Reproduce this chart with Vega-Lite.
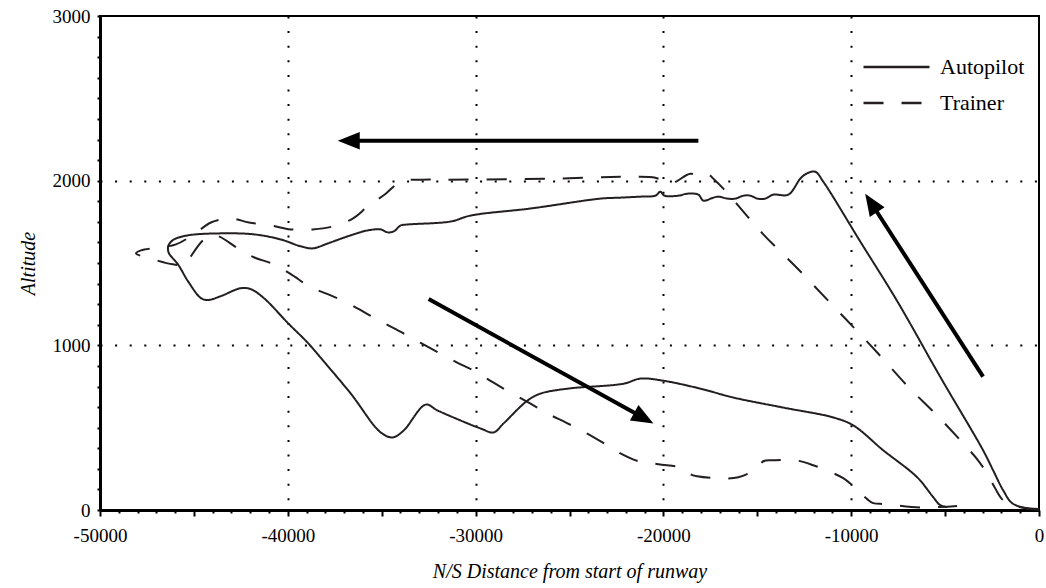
{
  "$schema": "https://vega.github.io/schema/vega-lite/v6.json",
  "width": 939,
  "height": 494,
  "autosize": {"type": "none"},
  "padding": {"left": 100, "top": 16, "right": 7, "bottom": 78},
  "background": "white",
  "config": {
    "view": {"stroke": "black", "strokeWidth": 2},
    "font": "Liberation Serif",
    "axis": {"labelFont": "Liberation Serif", "titleFont": "Liberation Serif"},
    "legend": {"labelFont": "Liberation Serif", "titleFont": "Liberation Serif"}
  },
  "datasets": {
    "paths": [
      {"s":"Autopilot","i":0,"x":0,"y":0},{"s":"Autopilot","i":1,"x":-745,"y":12},{"s":"Autopilot","i":2,"x":-1436,"y":42},{"s":"Autopilot","i":3,"x":-1915,"y":121},{"s":"Autopilot","i":4,"x":-2447,"y":242},{"s":"Autopilot","i":5,"x":-2979,"y":363},{"s":"Autopilot","i":6,"x":-5266,"y":810},{"s":"Autopilot","i":7,"x":-7553,"y":1269},{"s":"Autopilot","i":8,"x":-9521,"y":1631},{"s":"Autopilot","i":9,"x":-11489,"y":1994},{"s":"Autopilot","i":10,"x":-11915,"y":2054},{"s":"Autopilot","i":11,"x":-12393,"y":2042},{"s":"Autopilot","i":12,"x":-12712,"y":2012},{"s":"Autopilot","i":13,"x":-13351,"y":1915},{"s":"Autopilot","i":14,"x":-14149,"y":1915},{"s":"Autopilot","i":15,"x":-14574,"y":1891},{"s":"Autopilot","i":16,"x":-14999,"y":1891},{"s":"Autopilot","i":17,"x":-15372,"y":1909},{"s":"Autopilot","i":18,"x":-15745,"y":1909},{"s":"Autopilot","i":19,"x":-16170,"y":1891},{"s":"Autopilot","i":20,"x":-16596,"y":1891},{"s":"Autopilot","i":21,"x":-17074,"y":1903},{"s":"Autopilot","i":22,"x":-17340,"y":1897},{"s":"Autopilot","i":23,"x":-17872,"y":1879},{"s":"Autopilot","i":24,"x":-18138,"y":1915},{"s":"Autopilot","i":25,"x":-18724,"y":1921},{"s":"Autopilot","i":26,"x":-19202,"y":1909},{"s":"Autopilot","i":27,"x":-19947,"y":1909},{"s":"Autopilot","i":28,"x":-20159,"y":1933},{"s":"Autopilot","i":29,"x":-20425,"y":1909},{"s":"Autopilot","i":30,"x":-21223,"y":1903},{"s":"Autopilot","i":31,"x":-22287,"y":1897},{"s":"Autopilot","i":32,"x":-23350,"y":1891},{"s":"Autopilot","i":33,"x":-27074,"y":1831},{"s":"Autopilot","i":34,"x":-30265,"y":1788},{"s":"Autopilot","i":35,"x":-31329,"y":1752},{"s":"Autopilot","i":36,"x":-33616,"y":1734},{"s":"Autopilot","i":37,"x":-33988,"y":1728},{"s":"Autopilot","i":38,"x":-34361,"y":1692},{"s":"Autopilot","i":39,"x":-34680,"y":1686},{"s":"Autopilot","i":40,"x":-35052,"y":1704},{"s":"Autopilot","i":41,"x":-35744,"y":1698},{"s":"Autopilot","i":42,"x":-36807,"y":1662},{"s":"Autopilot","i":43,"x":-37871,"y":1619},{"s":"Autopilot","i":44,"x":-38669,"y":1589},{"s":"Autopilot","i":45,"x":-39307,"y":1601},{"s":"Autopilot","i":46,"x":-40371,"y":1643},{"s":"Autopilot","i":47,"x":-41807,"y":1674},{"s":"Autopilot","i":48,"x":-43563,"y":1680},{"s":"Autopilot","i":49,"x":-45318,"y":1668},{"s":"Autopilot","i":50,"x":-46063,"y":1643},{"s":"Autopilot","i":51,"x":-46328,"y":1613},{"s":"Autopilot","i":52,"x":-46382,"y":1589},{"s":"Autopilot","i":53,"x":-46328,"y":1559},{"s":"Autopilot","i":54,"x":-45850,"y":1492},{"s":"Autopilot","i":55,"x":-45318,"y":1390},{"s":"Autopilot","i":56,"x":-44626,"y":1287},{"s":"Autopilot","i":57,"x":-44254,"y":1275},{"s":"Autopilot","i":58,"x":-43563,"y":1299},{"s":"Autopilot","i":59,"x":-42499,"y":1347},{"s":"Autopilot","i":60,"x":-41967,"y":1341},{"s":"Autopilot","i":61,"x":-41275,"y":1287},{"s":"Autopilot","i":62,"x":-39999,"y":1136},{"s":"Autopilot","i":63,"x":-38935,"y":1015},{"s":"Autopilot","i":64,"x":-38244,"y":924},{"s":"Autopilot","i":65,"x":-36648,"y":707},{"s":"Autopilot","i":66,"x":-35052,"y":471},{"s":"Autopilot","i":67,"x":-34414,"y":441},{"s":"Autopilot","i":68,"x":-33829,"y":483},{"s":"Autopilot","i":69,"x":-32659,"y":640},{"s":"Autopilot","i":70,"x":-32020,"y":604},{"s":"Autopilot","i":71,"x":-29733,"y":495},{"s":"Autopilot","i":72,"x":-29042,"y":471},{"s":"Autopilot","i":73,"x":-28510,"y":526},{"s":"Autopilot","i":74,"x":-27233,"y":665},{"s":"Autopilot","i":75,"x":-26542,"y":707},{"s":"Autopilot","i":76,"x":-25106,"y":737},{"s":"Autopilot","i":77,"x":-22127,"y":767},{"s":"Autopilot","i":78,"x":-21223,"y":798},{"s":"Autopilot","i":79,"x":-19999,"y":785},{"s":"Autopilot","i":80,"x":-18031,"y":737},{"s":"Autopilot","i":81,"x":-16276,"y":683},{"s":"Autopilot","i":82,"x":-13617,"y":622},{"s":"Autopilot","i":83,"x":-10957,"y":562},{"s":"Autopilot","i":84,"x":-9893,"y":514},{"s":"Autopilot","i":85,"x":-8298,"y":363},{"s":"Autopilot","i":86,"x":-6489,"y":199},{"s":"Autopilot","i":87,"x":-5638,"y":79},{"s":"Autopilot","i":88,"x":-5266,"y":30},{"s":"Autopilot","i":89,"x":-4893,"y":18},
      {"s":"Trainer","i":0,"x":0,"y":6},{"s":"Trainer","i":1,"x":-1277,"y":24},{"s":"Trainer","i":2,"x":-1915,"y":60},{"s":"Trainer","i":3,"x":-2340,"y":133},{"s":"Trainer","i":4,"x":-2713,"y":211},{"s":"Trainer","i":5,"x":-3245,"y":302},{"s":"Trainer","i":6,"x":-4042,"y":405},{"s":"Trainer","i":7,"x":-5425,"y":574},{"s":"Trainer","i":8,"x":-7021,"y":755},{"s":"Trainer","i":9,"x":-8457,"y":937},{"s":"Trainer","i":10,"x":-9947,"y":1118},{"s":"Trainer","i":11,"x":-10957,"y":1239},{"s":"Trainer","i":12,"x":-12872,"y":1468},{"s":"Trainer","i":13,"x":-14680,"y":1674},{"s":"Trainer","i":14,"x":-16063,"y":1855},{"s":"Trainer","i":15,"x":-16808,"y":1952},{"s":"Trainer","i":16,"x":-17287,"y":2006},{"s":"Trainer","i":17,"x":-17606,"y":2036},{"s":"Trainer","i":18,"x":-18031,"y":2024},{"s":"Trainer","i":19,"x":-18564,"y":2042},{"s":"Trainer","i":20,"x":-19627,"y":1982},{"s":"Trainer","i":21,"x":-20425,"y":2018},{"s":"Trainer","i":22,"x":-21755,"y":2024},{"s":"Trainer","i":23,"x":-26010,"y":2012},{"s":"Trainer","i":24,"x":-31754,"y":2006},{"s":"Trainer","i":25,"x":-32818,"y":2006},{"s":"Trainer","i":26,"x":-33988,"y":1994},{"s":"Trainer","i":27,"x":-34786,"y":1921},{"s":"Trainer","i":28,"x":-35744,"y":1843},{"s":"Trainer","i":29,"x":-36542,"y":1770},{"s":"Trainer","i":30,"x":-37605,"y":1722},{"s":"Trainer","i":31,"x":-38669,"y":1704},{"s":"Trainer","i":32,"x":-39839,"y":1704},{"s":"Trainer","i":33,"x":-40903,"y":1728},{"s":"Trainer","i":34,"x":-42073,"y":1746},{"s":"Trainer","i":35,"x":-43031,"y":1770},{"s":"Trainer","i":36,"x":-44095,"y":1746},{"s":"Trainer","i":37,"x":-44999,"y":1674},{"s":"Trainer","i":38,"x":-45956,"y":1613},{"s":"Trainer","i":39,"x":-46754,"y":1595},{"s":"Trainer","i":40,"x":-47818,"y":1577},{"s":"Trainer","i":41,"x":-48084,"y":1559},{"s":"Trainer","i":42,"x":-47180,"y":1523},{"s":"Trainer","i":43,"x":-46116,"y":1492},{"s":"Trainer","i":44,"x":-45424,"y":1492},{"s":"Trainer","i":45,"x":-45158,"y":1541},{"s":"Trainer","i":46,"x":-44520,"y":1637},{"s":"Trainer","i":47,"x":-44095,"y":1668},{"s":"Trainer","i":48,"x":-43669,"y":1662},{"s":"Trainer","i":49,"x":-42659,"y":1589},{"s":"Trainer","i":50,"x":-41808,"y":1535},{"s":"Trainer","i":51,"x":-40744,"y":1492},{"s":"Trainer","i":52,"x":-39840,"y":1432},{"s":"Trainer","i":53,"x":-38776,"y":1353},{"s":"Trainer","i":54,"x":-37872,"y":1311},{"s":"Trainer","i":55,"x":-36808,"y":1257},{"s":"Trainer","i":56,"x":-35850,"y":1196},{"s":"Trainer","i":57,"x":-34893,"y":1136},{"s":"Trainer","i":58,"x":-33882,"y":1075},{"s":"Trainer","i":59,"x":-32925,"y":1015},{"s":"Trainer","i":60,"x":-31968,"y":955},{"s":"Trainer","i":61,"x":-30957,"y":894},{"s":"Trainer","i":62,"x":-29999,"y":840},{"s":"Trainer","i":63,"x":-29042,"y":773},{"s":"Trainer","i":64,"x":-28137,"y":713},{"s":"Trainer","i":65,"x":-27074,"y":646},{"s":"Trainer","i":66,"x":-26169,"y":586},{"s":"Trainer","i":67,"x":-25212,"y":532},{"s":"Trainer","i":68,"x":-24255,"y":477},{"s":"Trainer","i":69,"x":-23244,"y":411},{"s":"Trainer","i":70,"x":-22287,"y":344},{"s":"Trainer","i":71,"x":-21329,"y":296},{"s":"Trainer","i":72,"x":-20265,"y":278},{"s":"Trainer","i":73,"x":-19094,"y":260},{"s":"Trainer","i":74,"x":-18830,"y":248},{"s":"Trainer","i":75,"x":-18564,"y":218},{"s":"Trainer","i":76,"x":-18191,"y":205},{"s":"Trainer","i":77,"x":-17074,"y":193},{"s":"Trainer","i":78,"x":-16010,"y":199},{"s":"Trainer","i":79,"x":-14999,"y":254},{"s":"Trainer","i":80,"x":-14680,"y":296},{"s":"Trainer","i":81,"x":-14149,"y":302},{"s":"Trainer","i":82,"x":-12978,"y":302},{"s":"Trainer","i":83,"x":-12021,"y":272},{"s":"Trainer","i":84,"x":-10957,"y":224},{"s":"Trainer","i":85,"x":-10425,"y":193},{"s":"Trainer","i":86,"x":-9947,"y":151},{"s":"Trainer","i":87,"x":-9149,"y":66},{"s":"Trainer","i":88,"x":-8830,"y":42},{"s":"Trainer","i":89,"x":-8191,"y":36},{"s":"Trainer","i":90,"x":-6330,"y":15},{"s":"Trainer","i":91,"x":-4362,"y":25}
    ],
    "arrows": [
      {"id":"west","x":-18138,"y":2242,"x2":-36648,"y2":2242},
      {"id":"se","x":-32499,"y":1281,"x2":-21090,"y2":561},
      {"id":"nw","x":-2979,"y":810,"x2":-8909,"y2":1860}
    ],
    "heads": [
      {"id":"west","x":-37340,"y":2242},
      {"id":"se","x":-20531,"y":526},
      {"id":"nw","x":-9255,"y":1921}
    ]
  },
  "layer": [
    {
      "data": {"name": "paths"},
      "mark": {"type": "line", "stroke": "#231f20", "strokeWidth": 2, "interpolate": "catmull-rom"},
      "encoding": {
        "x": {
          "field": "x", "type": "quantitative",
          "scale": {"domain": [-50000, 0], "nice": false, "zero": false},
          "axis": {
            "title": "N/S Distance from start of runway",
            "titleFont": "Liberation Serif", "titleFontStyle": "italic", "titleFontWeight": "normal",
            "titleFontSize": 20, "titleColor": "black", "titlePadding": 16,
            "values": [-50000,-49000,-48000,-47000,-46000,-45000,-44000,-43000,-42000,-41000,-40000,-39000,-38000,-37000,-36000,-35000,-34000,-33000,-32000,-31000,-30000,-29000,-28000,-27000,-26000,-25000,-24000,-23000,-22000,-21000,-20000,-19000,-18000,-17000,-16000,-15000,-14000,-13000,-12000,-11000,-10000,-9000,-8000,-7000,-6000,-5000,-4000,-3000,-2000,-1000,0],
            "tickCount": 100,
            "labelExpr": "datum.value % 10000 === 0 ? '' + datum.value : ''",
            "labelFont": "Liberation Serif", "labelFontSize": 19, "labelColor": "black",
            "labelPadding": 10, "labelOverlap": false, "labelFlush": false,
            "domainColor": "black", "domainWidth": 3,
            "tickColor": "black", "tickWidth": 2,
            "tickSize": {"condition": {"test": "datum.value % 5000 === 0", "value": 6}, "value": 3},
            "grid": true, "gridColor": "black", "gridWidth": 2, "gridDash": [2, 12.6],
            "gridOpacity": {"condition": {"test": "datum.value % 10000 === 0 && datum.value > -50000 && datum.value < 0", "value": 1}, "value": 0}
          }
        },
        "y": {
          "field": "y", "type": "quantitative",
          "scale": {"domain": [0, 3000], "nice": false},
          "axis": {
            "title": "Altitude",
            "titleFont": "Liberation Serif", "titleFontStyle": "italic", "titleFontWeight": "normal",
            "titleFontSize": 20, "titleColor": "black", "titlePadding": 14,
            "values": [0,125,250,375,500,625,750,875,1000,1125,1250,1375,1500,1625,1750,1875,2000,2125,2250,2375,2500,2625,2750,2875,3000],
            "tickCount": 100,
            "labelExpr": "datum.value % 1000 === 0 ? '' + datum.value : ''",
            "labelFont": "Liberation Serif", "labelFontSize": 19, "labelColor": "black",
            "labelPadding": 7, "labelOverlap": false, "labelFlush": false,
            "domainColor": "black", "domainWidth": 3,
            "tickColor": "black", "tickWidth": 2, "tickSize": 3,
            "grid": true, "gridColor": "black", "gridWidth": 2, "gridDash": [2, 12.6],
            "gridOpacity": {"condition": {"test": "datum.value % 1000 === 0 && datum.value > 0 && datum.value < 3000", "value": 1}, "value": 0}
          }
        },
        "order": {"field": "i", "type": "quantitative"},
        "strokeDash": {
          "field": "s", "type": "nominal",
          "scale": {"domain": ["Autopilot", "Trainer"], "range": [[1, 0], [20, 18]]},
          "legend": {
            "title": null, "orient": "none", "legendX": 762, "legendY": 41,
            "symbolType": "stroke", "symbolSize": 4356, "symbolStrokeWidth": 2.5,
            "symbolStrokeColor": "#231f20",
            "labelFont": "Liberation Serif", "labelFontSize": 22, "labelColor": "black",
            "labelOffset": 9, "rowPadding": 14, "clipHeight": 20, "padding": 0,
            "encode": {"symbols": {"update": {"strokeDash": {"signal": "datum.value === 'Trainer' ? [28, 28] : [1, 0]"}}}}
          }
        }
      }
    },
    {
      "data": {"name": "arrows"},
      "mark": {"type": "rule", "stroke": "black", "strokeWidth": 4, "strokeCap": "butt"},
      "encoding": {
        "x": {"field": "x", "type": "quantitative"},
        "y": {"field": "y", "type": "quantitative"},
        "x2": {"field": "x2"},
        "y2": {"field": "y2"}
      }
    },
    {
      "data": {"name": "heads"},
      "transform": [{"filter": "datum.id === 'west'"}],
      "mark": {"type": "point", "shape": "M0,0L-0.4,1L0.4,1Z", "size": 1936, "filled": true, "color": "black", "opacity": 1, "strokeWidth": 0, "angle": 270},
      "encoding": {"x": {"field": "x", "type": "quantitative"}, "y": {"field": "y", "type": "quantitative"}}
    },
    {
      "data": {"name": "heads"},
      "transform": [{"filter": "datum.id === 'se'"}],
      "mark": {"type": "point", "shape": "M0,0L-0.4,1L0.4,1Z", "size": 1936, "filled": true, "color": "black", "opacity": 1, "strokeWidth": 0, "angle": 119},
      "encoding": {"x": {"field": "x", "type": "quantitative"}, "y": {"field": "y", "type": "quantitative"}}
    },
    {
      "data": {"name": "heads"},
      "transform": [{"filter": "datum.id === 'nw'"}],
      "mark": {"type": "point", "shape": "M0,0L-0.4,1L0.4,1Z", "size": 1936, "filled": true, "color": "black", "opacity": 1, "strokeWidth": 0, "angle": 327},
      "encoding": {"x": {"field": "x", "type": "quantitative"}, "y": {"field": "y", "type": "quantitative"}}
    }
  ]
}
